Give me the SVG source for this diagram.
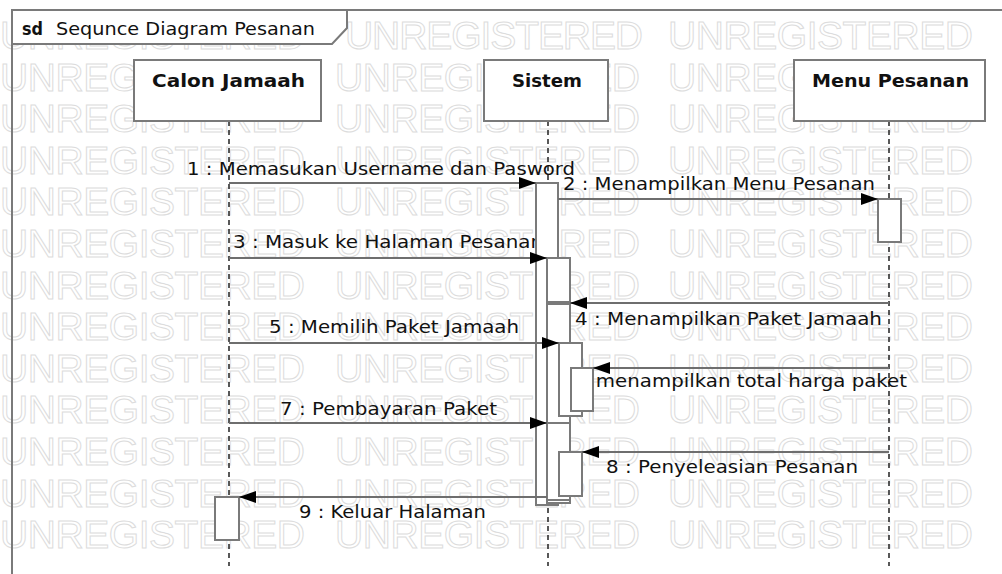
<svg xmlns="http://www.w3.org/2000/svg" width="1002" height="574" viewBox="0 0 1002 574">
<defs>
<style>
.wm{font-family:"Liberation Sans",Arial,sans-serif;font-size:39px;fill:none;stroke:#dcdcdc;stroke-width:1}
.t{font-family:"DejaVu Sans",Verdana,sans-serif;font-size:17px;fill:#111}
.b{font-family:"DejaVu Sans",Verdana,sans-serif;font-size:17px;font-weight:bold;fill:#111}
.head{fill:#fff;stroke:#7a7a7a;stroke-width:2}
.life{stroke:#222;stroke-width:1.5;stroke-dasharray:5 4;fill:none}
.bar{fill:#fff;stroke:#7a7a7a;stroke-width:2}
.msg{stroke:#6e6e6e;stroke-width:2;fill:none;marker-end:url(#ah)}
.frame{fill:none;stroke:#7a7a7a;stroke-width:2}
</style>
<marker id="ah" markerUnits="userSpaceOnUse" markerWidth="18" markerHeight="14" refX="17" refY="7" orient="auto">
<path d="M0,1 L17,7 L0,13 z" fill="#000"/>
</marker>
</defs>
<rect width="1002" height="574" fill="#fff"/>
<g id="watermark">
<text class="wm" x="0" y="49" textLength="305">UNREGISTERED</text><text class="wm" x="345" y="49" textLength="298">UNREGISTERED</text><text class="wm" x="668" y="49" textLength="305">UNREGISTERED</text>
<text class="wm" x="0" y="91" textLength="305">UNREGISTERED</text><text class="wm" x="335" y="91" textLength="305">UNREGISTERED</text><text class="wm" x="668" y="91" textLength="305">UNREGISTERED</text>
<text class="wm" x="0" y="132" textLength="305">UNREGISTERED</text><text class="wm" x="335" y="132" textLength="305">UNREGISTERED</text><text class="wm" x="668" y="132" textLength="305">UNREGISTERED</text>
<text class="wm" x="0" y="174" textLength="305">UNREGISTERED</text><text class="wm" x="335" y="174" textLength="305">UNREGISTERED</text><text class="wm" x="668" y="174" textLength="305">UNREGISTERED</text>
<text class="wm" x="0" y="215" textLength="305">UNREGISTERED</text><text class="wm" x="335" y="215" textLength="305">UNREGISTERED</text><text class="wm" x="668" y="215" textLength="305">UNREGISTERED</text>
<text class="wm" x="0" y="257" textLength="305">UNREGISTERED</text><text class="wm" x="335" y="257" textLength="305">UNREGISTERED</text><text class="wm" x="668" y="257" textLength="305">UNREGISTERED</text>
<text class="wm" x="0" y="299" textLength="305">UNREGISTERED</text><text class="wm" x="335" y="299" textLength="305">UNREGISTERED</text><text class="wm" x="668" y="299" textLength="305">UNREGISTERED</text>
<text class="wm" x="0" y="340" textLength="305">UNREGISTERED</text><text class="wm" x="335" y="340" textLength="305">UNREGISTERED</text><text class="wm" x="668" y="340" textLength="305">UNREGISTERED</text>
<text class="wm" x="0" y="382" textLength="305">UNREGISTERED</text><text class="wm" x="335" y="382" textLength="305">UNREGISTERED</text><text class="wm" x="668" y="382" textLength="305">UNREGISTERED</text>
<text class="wm" x="0" y="423" textLength="305">UNREGISTERED</text><text class="wm" x="335" y="423" textLength="305">UNREGISTERED</text><text class="wm" x="668" y="423" textLength="305">UNREGISTERED</text>
<text class="wm" x="0" y="465" textLength="305">UNREGISTERED</text><text class="wm" x="335" y="465" textLength="305">UNREGISTERED</text><text class="wm" x="668" y="465" textLength="305">UNREGISTERED</text>
<text class="wm" x="0" y="507" textLength="305">UNREGISTERED</text><text class="wm" x="335" y="507" textLength="305">UNREGISTERED</text><text class="wm" x="668" y="507" textLength="305">UNREGISTERED</text>
<text class="wm" x="0" y="548" textLength="305">UNREGISTERED</text><text class="wm" x="335" y="548" textLength="305">UNREGISTERED</text><text class="wm" x="668" y="548" textLength="305">UNREGISTERED</text>
</g>
<g id="frame">
<rect class="frame" x="12" y="10" width="1010" height="600"/>
<path d="M12,10 H347 V28 L332,44 H12 Z" fill="#fff" stroke="#7a7a7a" stroke-width="2"/>
<text class="b" x="22" y="35" textLength="21" lengthAdjust="spacingAndGlyphs">sd</text>
<text class="t" x="56" y="35" textLength="259" lengthAdjust="spacingAndGlyphs">Sequnce Diagram Pesanan</text>
</g>
<g id="calon-jamaah">
<line class="life" x1="229" y1="121" x2="229" y2="566"/>
<rect class="head" x="134" y="60" width="187" height="61"/>
<text class="b" x="152" y="87" textLength="153" lengthAdjust="spacingAndGlyphs">Calon Jamaah</text>
</g>
<g id="sistem">
<line class="life" x1="548" y1="121" x2="548" y2="566"/>
<rect class="head" x="484" y="60" width="124" height="61"/>
<text class="b" x="512" y="87" textLength="70" lengthAdjust="spacingAndGlyphs">Sistem</text>
</g>
<g id="menu-pesanan">
<line class="life" x1="889" y1="121" x2="889" y2="566"/>
<rect class="head" x="794" y="60" width="191" height="61"/>
<text class="b" x="812" y="87" textLength="157" lengthAdjust="spacingAndGlyphs">Menu Pesanan</text>
</g>
<g id="message-labels">
<text class="t" x="187" y="175" textLength="388" lengthAdjust="spacingAndGlyphs">1 : Memasukan Username dan Pasword</text>
<text class="t" x="563" y="190" textLength="312" lengthAdjust="spacingAndGlyphs">2 : Menampilkan Menu Pesanan</text>
<text class="t" x="233" y="248" textLength="310" lengthAdjust="spacingAndGlyphs">3 : Masuk ke Halaman Pesanan</text>
<text class="t" x="575" y="325" textLength="307" lengthAdjust="spacingAndGlyphs">4 : Menampilkan Paket Jamaah</text>
<text class="t" x="269" y="333" textLength="250" lengthAdjust="spacingAndGlyphs">5 : Memilih Paket Jamaah</text>
<text class="t" x="564" y="387" textLength="343" lengthAdjust="spacingAndGlyphs">6 : menampilkan total harga paket</text>
<text class="t" x="280" y="415" textLength="217" lengthAdjust="spacingAndGlyphs">7 : Pembayaran Paket</text>
<text class="t" x="606" y="473" textLength="252" lengthAdjust="spacingAndGlyphs">8 : Penyeleasian Pesanan</text>
<text class="t" x="299" y="518" textLength="187" lengthAdjust="spacingAndGlyphs">9 : Keluar Halaman</text>
</g>
<g id="activations">
<rect class="bar" x="536" y="183" width="22" height="322"/>
<rect class="bar" x="547" y="258" width="23" height="245"/>
<rect class="bar" x="547" y="302" width="23" height="2"/>
<rect class="bar" x="559" y="343" width="23" height="73"/>
<rect class="bar" x="571" y="368" width="22" height="43"/>
<rect class="bar" x="547" y="423" width="23" height="77"/>
<rect class="bar" x="559" y="452" width="23" height="44"/>
<rect class="bar" x="878" y="199" width="23" height="43"/>
<rect class="bar" x="215" y="497" width="24" height="43"/>
</g>
<g id="connectors">
<line class="msg" x1="229" y1="183" x2="536" y2="183"/>
<line class="msg" x1="558" y1="199" x2="878" y2="199"/>
<line class="msg" x1="229" y1="258" x2="547" y2="258"/>
<line class="msg" x1="889" y1="303" x2="570" y2="303"/>
<line class="msg" x1="229" y1="343" x2="559" y2="343"/>
<line class="msg" x1="889" y1="368" x2="593" y2="368"/>
<line class="msg" x1="229" y1="423" x2="547" y2="423"/>
<line class="msg" x1="889" y1="452" x2="582" y2="452"/>
<line class="msg" x1="547" y1="497" x2="239" y2="497"/>
</g>
</svg>
